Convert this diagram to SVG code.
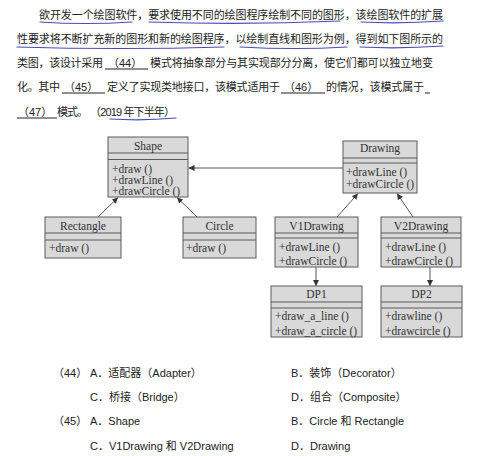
<svg xmlns="http://www.w3.org/2000/svg" width="495" height="456" viewBox="0 0 495 456">
<style>
.p{font-family:"Noto Sans CJK SC","Liberation Sans",sans-serif;font-size:11px;fill:#222}
.n{font-family:"Liberation Sans","Noto Sans CJK SC",sans-serif;font-size:11px;fill:#222}
.o{font-family:"Liberation Sans","Noto Sans CJK SC",sans-serif;font-size:11px;fill:#222}
.blank{stroke:#222;stroke-width:1}
.hand{fill:none;stroke:#4a4ab8;stroke-width:1.2;stroke-linecap:round}
.box{fill:#d9d9d9;stroke:#5a5a5a;stroke-width:1}
.sep{stroke:#5a5a5a;stroke-width:1}
.t{font-family:"Liberation Serif","Times New Roman",serif;font-size:11.5px;fill:#333}
.c{text-anchor:middle}
.con{stroke:#444;stroke-width:0.9;fill:none;marker-end:url(#ah)}
</style>
<defs>
<marker id="ah" viewBox="0 0 8 8" refX="8" refY="4" markerWidth="6" markerHeight="6" markerUnits="userSpaceOnUse" orient="auto">
<path d="M0,0 L8,4 L0,8 z" fill="#333"/>
</marker>
</defs>
<rect width="495" height="456" fill="#fff"/>

<g id="paragraph">
<text class="p" x="39" y="19" textLength="404" lengthAdjust="spacing">欲开发一个绘图软件，要求使用不同的绘图程序绘制不同的图形，该绘图软件的扩展</text>
<text class="p" x="17" y="43" textLength="426" lengthAdjust="spacing">性要求将不断扩充新的图形和新的绘图程序，以绘制直线和图形为例，得到如下图所示的</text>
<text class="p" x="17" y="67" textLength="86" lengthAdjust="spacing">类图，该设计采用</text>
<text class="n" x="108" y="67">（44）</text>
<line class="blank" x1="105" y1="69" x2="148" y2="69"/>
<text class="p" x="150" y="67" textLength="283" lengthAdjust="spacing">模式将抽象部分与其实现部分分离，使它们都可以独立地变</text>
<text class="p" x="17" y="91" textLength="43" lengthAdjust="spacing">化。其中</text>
<text class="n" x="64" y="91">（45）</text>
<line class="blank" x1="62" y1="93" x2="105" y2="93"/>
<text class="p" x="107" y="91" textLength="173" lengthAdjust="spacing">定义了实现类地接口，该模式适用于</text>
<text class="n" x="284" y="91">（46）</text>
<line class="blank" x1="281" y1="93" x2="325" y2="93"/>
<text class="p" x="326" y="91" textLength="98" lengthAdjust="spacing">的情况，该模式属于</text>
<line class="blank" x1="425" y1="93" x2="430" y2="93"/>
<text class="n" x="18" y="116">（47）</text>
<line class="blank" x1="17" y1="118" x2="57" y2="118"/>
<text class="p" x="57" y="116" textLength="31" lengthAdjust="spacing">模式。</text>
<text class="n" x="90" y="116" textLength="85" lengthAdjust="spacing">（2019 年下半年）</text>
<path class="hand" d="M40,22 Q85,25 132,22"/>
<path class="hand" d="M149,22 Q245,25 340,21"/>
<path class="hand" d="M361,22 Q400,24 443,21"/>
<path class="hand" d="M17,47 Q120,50 224,47"/>
<path class="hand" d="M240,47 Q295,50 347,47"/>
<path class="hand" d="M360,47 Q400,49 443,46"/>
<path class="hand" d="M110,119 Q143,121 176,118"/>
</g>

<g id="connectors">
<line class="con" x1="343" y1="168" x2="188.5" y2="168"/>
<line class="con" x1="98" y1="217" x2="118" y2="197.5"/>
<line class="con" x1="197" y1="217" x2="177" y2="197.5"/>
<line class="con" x1="337" y1="217" x2="358" y2="193.5"/>
<line class="con" x1="413" y1="217" x2="397" y2="193.5"/>
<line class="con" x1="316" y1="267" x2="316" y2="286"/>
<line class="con" x1="430" y1="267" x2="430" y2="286"/>
</g>

<g id="Shape">
<rect class="box" x="108" y="137" width="80" height="60"/>
<line class="sep" x1="108" y1="153" x2="188" y2="153"/>
<line class="sep" x1="108" y1="159.5" x2="188" y2="159.5"/>
<text class="t c" x="148" y="149.5">Shape</text>
<text class="t" x="112" y="172.5">+draw ()</text>
<text class="t" x="112" y="183.5">+drawLine ()</text>
<text class="t" x="112" y="194.5">+drawCircle ()</text>
</g>

<g id="Drawing">
<rect class="box" x="343" y="141" width="74" height="52"/>
<line class="sep" x1="343" y1="158" x2="417" y2="158"/>
<line class="sep" x1="343" y1="163" x2="417" y2="163"/>
<text class="t c" x="380" y="152">Drawing</text>
<text class="t" x="346" y="175.5">+drawLine ()</text>
<text class="t" x="346" y="188">+drawCircle ()</text>
</g>

<g id="Rectangle">
<rect class="box" x="45" y="217" width="76" height="41"/>
<line class="sep" x1="45" y1="233" x2="121" y2="233"/>
<line class="sep" x1="45" y1="240" x2="121" y2="240"/>
<text class="t c" x="83" y="229.5">Rectangle</text>
<text class="t" x="49" y="252">+draw ()</text>
</g>

<g id="Circle">
<rect class="box" x="183" y="217" width="73" height="41"/>
<line class="sep" x1="183" y1="233" x2="256" y2="233"/>
<line class="sep" x1="183" y1="240" x2="256" y2="240"/>
<text class="t c" x="219.5" y="229.5">Circle</text>
<text class="t" x="186" y="252">+draw ()</text>
</g>

<g id="V1Drawing">
<rect class="box" x="275" y="217" width="83" height="50"/>
<line class="sep" x1="275" y1="233" x2="358" y2="233"/>
<line class="sep" x1="275" y1="238" x2="358" y2="238"/>
<text class="t c" x="316.5" y="229.5">V1Drawing</text>
<text class="t" x="279" y="251">+drawLine ()</text>
<text class="t" x="279" y="264.5">+drawCircle ()</text>
</g>

<g id="V2Drawing">
<rect class="box" x="381" y="217" width="80" height="50"/>
<line class="sep" x1="381" y1="233" x2="461" y2="233"/>
<line class="sep" x1="381" y1="238" x2="461" y2="238"/>
<text class="t c" x="421" y="229.5">V2Drawing</text>
<text class="t" x="385" y="251">+drawLine ()</text>
<text class="t" x="385" y="264.5">+drawCircle ()</text>
</g>

<g id="DP1">
<rect class="box" x="271" y="286" width="91" height="51"/>
<line class="sep" x1="271" y1="302" x2="362" y2="302"/>
<line class="sep" x1="271" y1="308" x2="362" y2="308"/>
<text class="t c" x="316.5" y="298">DP1</text>
<text class="t" x="275" y="320">+draw_a_line ()</text>
<text class="t" x="275" y="334.5">+draw_a_circle ()</text>
</g>

<g id="DP2">
<rect class="box" x="381" y="286" width="81" height="51"/>
<line class="sep" x1="381" y1="302" x2="462" y2="302"/>
<line class="sep" x1="381" y1="308" x2="462" y2="308"/>
<text class="t c" x="421.5" y="298">DP2</text>
<text class="t" x="385" y="320">+drawline ()</text>
<text class="t" x="385" y="334.5">+drawcircle ()</text>
</g>

<g id="options">
<text class="o" x="53" y="377">（44）</text>
<text class="o" x="90" y="377">A．适配器（Adapter）</text>
<text class="o" x="291" y="377">B．装饰（Decorator）</text>
<text class="o" x="90" y="401">C．桥接（Bridge）</text>
<text class="o" x="291" y="401">D．组合（Composite）</text>
<text class="o" x="53" y="425">（45）</text>
<text class="o" x="90" y="425">A．Shape</text>
<text class="o" x="291" y="425">B．Circle 和 Rectangle</text>
<text class="o" x="90" y="450">C．V1Drawing 和 V2Drawing</text>
<text class="o" x="291" y="450">D．Drawing</text>
</g>
</svg>
